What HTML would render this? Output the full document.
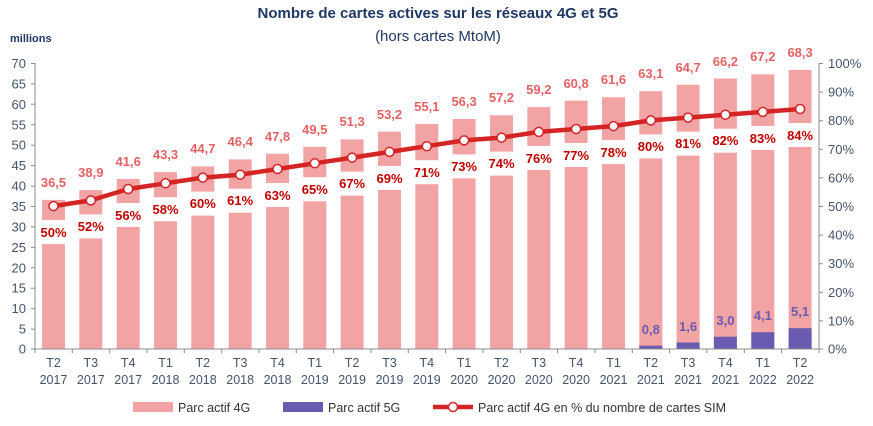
<!DOCTYPE html>
<html><head><meta charset="utf-8"><style>
html,body{margin:0;padding:0;background:#fff;}
svg{display:block;font-family:"Liberation Sans",sans-serif;}
</style></head><body>
<svg width="873" height="426" viewBox="0 0 873 426" xmlns="http://www.w3.org/2000/svg">
<text x="438" y="18" text-anchor="middle" font-size="15" font-weight="bold" fill="#1F3864">Nombre de cartes actives sur les réseaux 4G et 5G</text>
<text x="438" y="41" text-anchor="middle" font-size="15" fill="#1F3864">(hors cartes MtoM)</text>
<text x="10" y="42" font-size="11" font-weight="bold" fill="#1F3864">millions</text>
<g fill="#F2A3A3">
<rect x="42" y="199.9" width="23" height="149.1"/>
<rect x="79.3" y="190.1" width="23" height="158.9"/>
<rect x="116.7" y="179" width="23" height="170"/>
<rect x="154" y="172.1" width="23" height="176.9"/>
<rect x="191.3" y="166.4" width="23" height="182.6"/>
<rect x="228.7" y="159.4" width="23" height="189.6"/>
<rect x="266" y="153.7" width="23" height="195.3"/>
<rect x="303.3" y="146.8" width="23" height="202.2"/>
<rect x="340.6" y="139.4" width="23" height="209.6"/>
<rect x="378" y="131.6" width="23" height="217.4"/>
<rect x="415.3" y="123.9" width="23" height="225.1"/>
<rect x="452.6" y="119" width="23" height="230"/>
<rect x="490" y="115.3" width="23" height="233.7"/>
<rect x="527.3" y="107.1" width="23" height="241.9"/>
<rect x="564.6" y="100.6" width="23" height="248.4"/>
<rect x="602" y="97.3" width="23" height="251.7"/>
<rect x="639.3" y="91.2" width="23" height="257.8"/>
<rect x="676.6" y="84.7" width="23" height="264.3"/>
<rect x="713.9" y="78.5" width="23" height="270.5"/>
<rect x="751.3" y="74.4" width="23" height="274.6"/>
<rect x="788.6" y="69.9" width="23" height="279.1"/>
</g>
<g fill="#6A5BB0">
<rect x="639.3" y="345.7" width="23" height="3.3"/>
<rect x="676.6" y="342.5" width="23" height="6.5"/>
<rect x="713.9" y="336.7" width="23" height="12.3"/>
<rect x="751.3" y="332.2" width="23" height="16.8"/>
<rect x="788.6" y="328.2" width="23" height="20.8"/>
</g>
<!-- white boxes behind % labels -->
<g fill="#fff">
<rect x="38.5" y="220.1" width="30" height="24"/>
<rect x="75.8" y="214.4" width="30" height="24"/>
<rect x="113.2" y="203" width="30" height="24"/>
<rect x="150.5" y="197.3" width="30" height="24"/>
<rect x="187.8" y="191.6" width="30" height="24"/>
<rect x="225.2" y="188.7" width="30" height="24"/>
<rect x="262.5" y="183" width="30" height="24"/>
<rect x="299.8" y="177.3" width="30" height="24"/>
<rect x="337.1" y="171.6" width="30" height="24"/>
<rect x="374.5" y="165.9" width="30" height="24"/>
<rect x="411.8" y="160.2" width="30" height="24"/>
<rect x="449.1" y="154.4" width="30" height="24"/>
<rect x="486.5" y="151.6" width="30" height="24"/>
<rect x="523.8" y="145.9" width="30" height="24"/>
<rect x="561.1" y="143" width="30" height="24"/>
<rect x="598.5" y="140.1" width="30" height="24"/>
<rect x="635.8" y="134.4" width="30" height="24"/>
<rect x="673.1" y="131.6" width="30" height="24"/>
<rect x="710.4" y="128.7" width="30" height="24"/>
<rect x="747.8" y="125.9" width="30" height="24"/>
<rect x="785.1" y="123" width="30" height="24"/>
</g>
<!-- axes -->
<g stroke="#8C8C8C" stroke-width="1" fill="none">
<line x1="35" y1="63" x2="35" y2="349"/>
<line x1="819" y1="63" x2="819" y2="349"/>
<line x1="35" y1="349" x2="819" y2="349"/>
<path d="M31 63.5h4M31 83.9h4M31 104.3h4M31 124.8h4M31 145.2h4M31 165.6h4M31 186.1h4M31 206.5h4M31 226.9h4M31 247.4h4M31 267.8h4M31 288.2h4M31 308.7h4M31 329.1h4M31 349h4"/>
<path d="M819 63.5h4M819 92.1h4M819 120.7h4M819 149.3h4M819 177.9h4M819 206.5h4M819 235.1h4M819 263.7h4M819 292.3h4M819 320.9h4M819 349h4"/>
<path d="M35 349v4M72.3 349v4M109.7 349v4M147 349v4M184.3 349v4M221.7 349v4M259 349v4M296.3 349v4M333.6 349v4M371 349v4M408.3 349v4M445.6 349v4M483 349v4M520.3 349v4M557.6 349v4M595 349v4M632.3 349v4M669.6 349v4M706.9 349v4M744.3 349v4M781.6 349v4M819 349v4"/>
</g>
<g font-size="13" fill="#44546A" text-anchor="end">
<text x="26" y="68">70</text><text x="26" y="88.4">65</text><text x="26" y="108.8">60</text><text x="26" y="129.3">55</text><text x="26" y="149.7">50</text><text x="26" y="170.1">45</text><text x="26" y="190.6">40</text><text x="26" y="211">35</text><text x="26" y="231.4">30</text><text x="26" y="251.9">25</text><text x="26" y="272.3">20</text><text x="26" y="292.7">15</text><text x="26" y="313.2">10</text><text x="26" y="333.6">5</text><text x="26" y="353.5">0</text>
</g>
<g font-size="13" fill="#44546A" text-anchor="start">
<text x="828" y="68">100%</text><text x="828" y="96.6">90%</text><text x="828" y="125.2">80%</text><text x="828" y="153.8">70%</text><text x="828" y="182.4">60%</text><text x="828" y="211">50%</text><text x="828" y="239.6">40%</text><text x="828" y="268.2">30%</text><text x="828" y="296.8">20%</text><text x="828" y="325.4">10%</text><text x="828" y="353.5">0%</text>
</g>
<g font-size="12.5" fill="#44546A" text-anchor="middle">
<text x="53.5" y="367">T2</text><text x="53.5" y="384">2017</text>
<text x="90.8" y="367">T3</text><text x="90.8" y="384">2017</text>
<text x="128.2" y="367">T4</text><text x="128.2" y="384">2017</text>
<text x="165.5" y="367">T1</text><text x="165.5" y="384">2018</text>
<text x="202.8" y="367">T2</text><text x="202.8" y="384">2018</text>
<text x="240.2" y="367">T3</text><text x="240.2" y="384">2018</text>
<text x="277.5" y="367">T4</text><text x="277.5" y="384">2018</text>
<text x="314.8" y="367">T1</text><text x="314.8" y="384">2019</text>
<text x="352.1" y="367">T2</text><text x="352.1" y="384">2019</text>
<text x="389.5" y="367">T3</text><text x="389.5" y="384">2019</text>
<text x="426.8" y="367">T4</text><text x="426.8" y="384">2019</text>
<text x="464.1" y="367">T1</text><text x="464.1" y="384">2020</text>
<text x="501.5" y="367">T2</text><text x="501.5" y="384">2020</text>
<text x="538.8" y="367">T3</text><text x="538.8" y="384">2020</text>
<text x="576.1" y="367">T4</text><text x="576.1" y="384">2020</text>
<text x="613.5" y="367">T1</text><text x="613.5" y="384">2021</text>
<text x="650.8" y="367">T2</text><text x="650.8" y="384">2021</text>
<text x="688.1" y="367">T3</text><text x="688.1" y="384">2021</text>
<text x="725.4" y="367">T4</text><text x="725.4" y="384">2021</text>
<text x="762.8" y="367">T1</text><text x="762.8" y="384">2022</text>
<text x="800.1" y="367">T2</text><text x="800.1" y="384">2022</text>
</g>
<!-- value labels -->
<g font-size="13" font-weight="bold" fill="#E46264" text-anchor="middle">
<text x="53.5" y="187">36,5</text><text x="90.8" y="177">38,9</text><text x="128.2" y="166">41,6</text><text x="165.5" y="159">43,3</text><text x="202.8" y="153">44,7</text><text x="240.2" y="146">46,4</text><text x="277.5" y="141">47,8</text><text x="314.8" y="134">49,5</text><text x="352.1" y="126">51,3</text><text x="389.5" y="119">53,2</text><text x="426.8" y="111">55,1</text><text x="464.1" y="106">56,3</text><text x="501.5" y="102">57,2</text><text x="538.8" y="94">59,2</text><text x="576.1" y="88">60,8</text><text x="613.5" y="84">61,6</text><text x="650.8" y="78">63,1</text><text x="688.1" y="72">64,7</text><text x="725.4" y="66">66,2</text><text x="762.8" y="61">67,2</text><text x="800.1" y="57">68,3</text>
</g>
<g font-size="13" font-weight="bold" fill="#6A5BB0" text-anchor="middle">
<text x="650.8" y="334">0,8</text><text x="688.1" y="331">1,6</text><text x="725.4" y="325">3,0</text><text x="762.8" y="320">4,1</text><text x="800.1" y="316">5,1</text>
</g>
<!-- line -->
<polyline fill="none" stroke="#D42424" stroke-width="4.5" stroke-linejoin="round" points="53.5,206.1 90.8,200.4 128.2,189 165.5,183.3 202.8,177.6 240.2,174.7 277.5,169 314.8,163.3 352.1,157.6 389.5,151.9 426.8,146.2 464.1,140.4 501.5,137.6 538.8,131.9 576.1,129 613.5,126.1 650.8,120.4 688.1,117.6 725.4,114.7 762.8,111.9 800.1,109"/>
<g fill="#fff" stroke="#D42424" stroke-width="1.5">
<circle cx="53.5" cy="206.1" r="4.5"/><circle cx="90.8" cy="200.4" r="4.5"/><circle cx="128.2" cy="189" r="4.5"/><circle cx="165.5" cy="183.3" r="4.5"/><circle cx="202.8" cy="177.6" r="4.5"/><circle cx="240.2" cy="174.7" r="4.5"/><circle cx="277.5" cy="169" r="4.5"/><circle cx="314.8" cy="163.3" r="4.5"/><circle cx="352.1" cy="157.6" r="4.5"/><circle cx="389.5" cy="151.9" r="4.5"/><circle cx="426.8" cy="146.2" r="4.5"/><circle cx="464.1" cy="140.4" r="4.5"/><circle cx="501.5" cy="137.6" r="4.5"/><circle cx="538.8" cy="131.9" r="4.5"/><circle cx="576.1" cy="129" r="4.5"/><circle cx="613.5" cy="126.1" r="4.5"/><circle cx="650.8" cy="120.4" r="4.5"/><circle cx="688.1" cy="117.6" r="4.5"/><circle cx="725.4" cy="114.7" r="4.5"/><circle cx="762.8" cy="111.9" r="4.5"/><circle cx="800.1" cy="109" r="4.5"/>
</g>
<g font-size="13" font-weight="bold" fill="#C00000" text-anchor="middle">
<text x="53.5" y="237">50%</text><text x="90.8" y="231">52%</text><text x="128.2" y="220">56%</text><text x="165.5" y="214">58%</text><text x="202.8" y="208">60%</text><text x="240.2" y="205">61%</text><text x="277.5" y="200">63%</text><text x="314.8" y="194">65%</text><text x="352.1" y="188">67%</text><text x="389.5" y="183">69%</text><text x="426.8" y="177">71%</text><text x="464.1" y="171">73%</text><text x="501.5" y="168">74%</text><text x="538.8" y="163">76%</text><text x="576.1" y="160">77%</text><text x="613.5" y="157">78%</text><text x="650.8" y="151">80%</text><text x="688.1" y="148">81%</text><text x="725.4" y="145">82%</text><text x="762.8" y="143">83%</text><text x="800.1" y="140">84%</text>
</g>
<!-- legend -->
<rect x="133" y="402" width="40" height="10" fill="#F2A3A3"/>
<text x="178" y="412" font-size="12.5" fill="#333">Parc actif 4G</text>
<rect x="283" y="402" width="40" height="10" fill="#6A5BB0"/>
<text x="328" y="412" font-size="12.5" fill="#333">Parc actif 5G</text>
<line x1="433" y1="407" x2="473" y2="407" stroke="#D42424" stroke-width="4.5"/>
<circle cx="453" cy="407" r="4.5" fill="#fff" stroke="#D42424" stroke-width="1.5"/>
<text x="478" y="412" font-size="12.5" fill="#333">Parc actif 4G en % du nombre de cartes SIM</text>
</svg>
</body></html>
